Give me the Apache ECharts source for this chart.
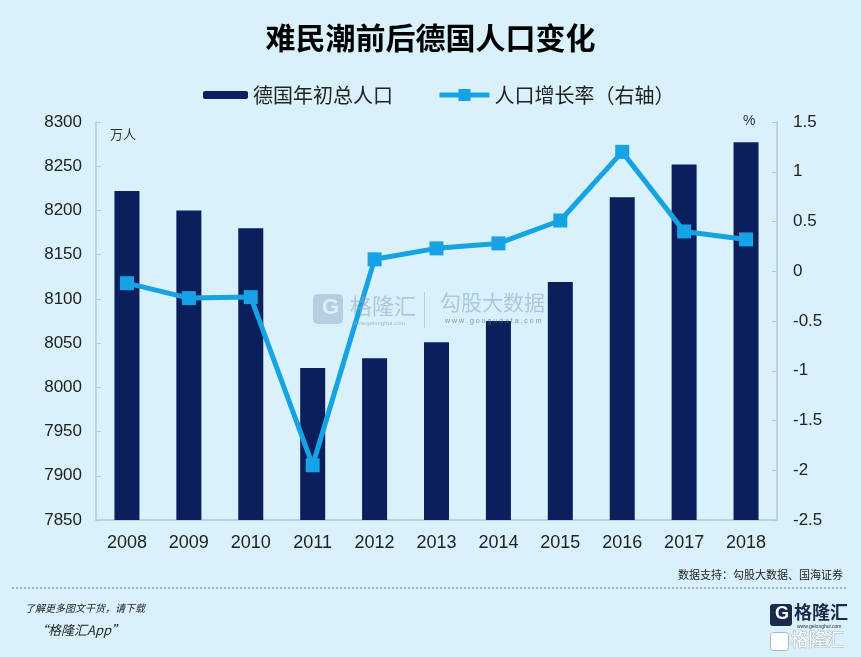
<!DOCTYPE html>
<html>
<head>
<meta charset="utf-8">
<script src="https://cdn.jsdelivr.net/npm/echarts@6/dist/echarts.min.js"></script>
<style>
  html, body { margin: 0; padding: 0; background: #d9f1fb; }
  #chart { width: 861px; height: 657px; }
</style>
</head>
<body>
<div id="chart"></div>
<script>
// 数据
var years = ["2008", "2009", "2010", "2011", "2012", "2013", "2014", "2015", "2016", "2017", "2018"];
var population = [8222, 8200, 8180, 8022, 8033, 8051, 8075, 8119, 8215, 8252, 8277];
var growthRate = [-0.12, -0.27, -0.26, -1.95, 0.12, 0.23, 0.28, 0.51, 1.2, 0.4, 0.32];
var leftTicks = { min: 7850, max: 8300, step: 50 };
var rightTicks = { min: -2.5, max: 1.5, step: 0.5 };

var barColor = "#0a1f5b";
var lineColor = "#15a3e5";
var cjk = "'Noto Sans CJK SC', sans-serif";
var num = "'Liberation Sans', Arial, sans-serif";

var myChart = echarts.init(document.getElementById("chart"));
var option = {
  backgroundColor: "#d9f1fb",
  animation: false,
  title: {
    text: "难民潮前后德国人口变化",
    left: "center",
    top: 18,
    textStyle: { fontFamily: cjk, fontSize: 30, fontWeight: "bold", color: "#000" },
  },
  legend: [
    {
      data: ["德国年初总人口"],
      left: 198,
      top: 80,
      itemWidth: 45,
      itemHeight: 8,
      textStyle: { fontFamily: cjk, fontSize: 20, color: "#222" },
    },
    {
      data: ["人口增长率（右轴）"],
      left: 432,
      top: 80,
      itemWidth: 50,
      itemHeight: 15,
      lineStyle: { width: 5 },
      textStyle: { fontFamily: cjk, fontSize: 20, color: "#222" },
    },
  ],
  grid: { left: 96, right: 84, top: 122, bottom: 137 },
  xAxis: {
    type: "category",
    data: years,
    axisLine: { onZero: false, lineStyle: { color: "#bcc6cc", width: 1.5 } },
    axisTick: { lineStyle: { color: "#bcc6cc" }, length: 5 },
    axisLabel: { fontFamily: num, fontSize: 18, color: "#222", margin: 14 },
  },
  yAxis: [
    {
      type: "value",
      min: leftTicks.min,
      max: leftTicks.max,
      interval: leftTicks.step,
      splitLine: { show: false },
      axisLine: { show: true, lineStyle: { color: "#bcc6cc", width: 1.5 } },
      axisTick: { show: true, inside: true, length: 5, lineStyle: { color: "#bcc6cc" } },
      axisLabel: {
        fontFamily: num,
        fontSize: 17,
        color: "#222",
        margin: 14,
        formatter: function (v) {
          return String(v);
        },
      },
    },
    {
      type: "value",
      min: rightTicks.min,
      max: rightTicks.max,
      interval: rightTicks.step,
      splitLine: { show: false },
      axisLine: { show: true, lineStyle: { color: "#bcc6cc", width: 1.5 } },
      axisTick: { show: true, inside: true, length: 5, lineStyle: { color: "#bcc6cc" } },
      axisLabel: { fontFamily: num, fontSize: 17, color: "#222", margin: 16 },
    },
  ],
  graphic: [
    { type: "text", left: 110, top: 128, style: { text: "万人", fontFamily: cjk, fontSize: 13, fill: "#333" } },
    { type: "text", left: 743, top: 114, style: { text: "%", fontFamily: num, fontSize: 14, fill: "#333" } },
    // 水印
    { type: "rect", left: 313, top: 294, shape: { width: 30, height: 30, r: 5 }, style: { fill: "rgba(140,165,190,0.45)" }, z: 5 },
    { type: "text", left: 322, top: 297, style: { text: "G", fontFamily: num, fontSize: 22, fontWeight: "bold", fill: "#d9f1fb" }, z: 6 },
    { type: "text", left: 350, top: 295, style: { text: "格隆汇", fontFamily: cjk, fontSize: 22, fill: "rgba(140,165,190,0.55)" }, z: 5 },
    { type: "text", left: 352, top: 320, style: { text: "www.gelonghui.com", fontFamily: num, fontSize: 6, fill: "rgba(140,165,190,0.7)" }, z: 5 },
    { type: "rect", left: 424, top: 292, shape: { width: 1, height: 36 }, style: { fill: "rgba(140,165,190,0.45)" }, z: 5 },
    { type: "text", left: 440, top: 292, style: { text: "勾股大数据", fontFamily: cjk, fontSize: 21, fill: "rgba(140,165,190,0.55)" }, z: 5 },
    { type: "text", left: 445, top: 318, style: { text: "w w w . g o u g u d a t a . c o m", fontFamily: num, fontSize: 7, fill: "rgba(90,110,140,0.7)" }, z: 5 },
    // 底部
    { type: "text", right: 18, top: 569, style: { text: "数据支持：勾股大数据、国海证券", fontFamily: cjk, fontSize: 11, fill: "#222" } },
    { type: "line", shape: { x1: 12, y1: 588, x2: 848, y2: 588 }, style: { stroke: "#777", lineWidth: 1, lineDash: [2, 2] } },
    { type: "text", left: 25, top: 603, style: { text: "了解更多图文干货，请下载", fontFamily: cjk, fontSize: 10, fontStyle: "italic", fill: "#222" } },
    { type: "text", left: 35, top: 624, style: { text: "“格隆汇App”", fontFamily: cjk, fontSize: 13, fontStyle: "italic", fill: "#222" } },
    { type: "rect", left: 770, top: 604, shape: { width: 22, height: 22, r: 3 }, style: { fill: "#1c2a4a" } },
    { type: "text", left: 775, top: 605, style: { text: "G", fontFamily: num, fontSize: 18, fontWeight: "bold", fill: "#fff" } },
    { type: "text", left: 794, top: 603, style: { text: "格隆汇", fontFamily: cjk, fontSize: 18, fontWeight: "bold", fill: "#1c2a4a" } },
    { type: "text", left: 797, top: 624, style: { text: "www.gelonghui.com", fontFamily: num, fontSize: 5, fill: "#1c2a4a" } },
    { type: "text", left: 790, top: 630, style: { text: "格隆汇", fontFamily: cjk, fontSize: 18, fill: "#fff", stroke: "#a9b6c4", lineWidth: 1 } },
    { type: "rect", left: 770, top: 632, shape: { width: 18, height: 18, r: 3 }, style: { fill: "#fff", stroke: "#a9b6c4", lineWidth: 1 } },
  ],
  series: [
    {
      name: "德国年初总人口",
      type: "bar",
      data: population,
      barWidth: 25,
      itemStyle: { color: barColor },
      z: 2,
    },
    {
      name: "人口增长率（右轴）",
      type: "line",
      yAxisIndex: 1,
      data: growthRate,
      symbol: "rect",
      symbolSize: 14,
      itemStyle: { color: lineColor },
      lineStyle: { color: lineColor, width: 5 },
      z: 3,
    },
  ],
};
myChart.setOption(option);
</script>
</body>
</html>
